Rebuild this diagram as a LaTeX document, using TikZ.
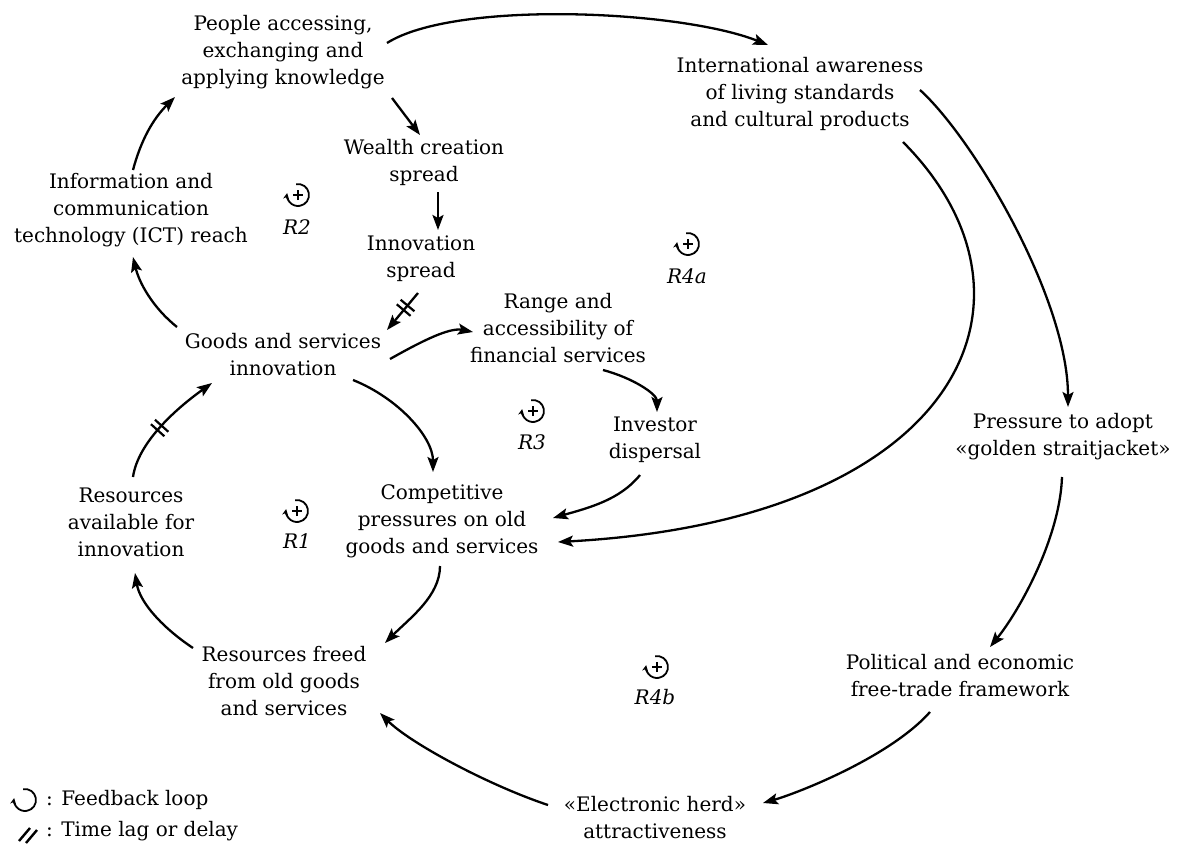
\documentclass[tikz,border=0pt]{standalone}
\usepackage{fontspec}
\setmainfont{DejaVu Serif}
\usetikzlibrary{arrows.meta,decorations.markings}
\begin{document}
\begin{tikzpicture}[x=1pt,y=-1pt,
  lbl/.style={align=center, inner sep=0pt, font=\fontsize{20}{27}\selectfont},
  loopname/.style={inner sep=0pt, font=\fontsize{20}{24}\selectfont\itshape},
  conn/.style={line width=2.3pt, -{Stealth[length=15pt,width=11pt,inset=3pt]}},
  lagmark/.style={postaction={decorate,decoration={markings,
      mark=at position #1 with {\draw[line width=2.2pt,-] (-3,-9)--(-3,9) (3,-9)--(3,9);}}}},
  loopbare/.pic={
    \begin{scope}[yscale=-1]
      \draw[line width=1.8pt,-{Stealth[length=6pt,width=6pt]}]
        (100:11) arc[start angle=100,end angle=-190,radius=11];
    \end{scope}},
  loopicon/.pic={
    \begin{scope}[yscale=-1]
      \draw[line width=1.8pt,-{Stealth[length=6pt,width=6pt]}]
        (100:11) arc[start angle=100,end angle=-190,radius=11];
      \draw[line width=2.6pt] (-5,0)--(5,0) (0,-5)--(0,5);
    \end{scope}}
]
\useasboundingbox (0,0) rectangle (1179,846);

% variables of the causal loop diagram
\node[lbl] (people)    at (283,52)  {People accessing,\\exchanging and\\applying knowledge};
\node[lbl] (intl)      at (800,94)  {International awareness\\of living standards\\and cultural products};
\node[lbl] (wealth)    at (424,162) {Wealth creation\\spread};
\node[lbl] (ict)       at (131,210) {Information and\\communication\\technology (ICT) reach};
\node[lbl] (innov)     at (421,259) {Innovation\\spread};
\node[lbl] (range)     at (558,328) {Range and\\accessibility of\\financial services};
\node[lbl] (goods)     at (283,355) {Goods and services\\innovation};
\node[lbl] (investor)  at (655,440) {Investor\\dispersal};
\node[lbl] (pressure)  at (1063,437) {Pressure to adopt\\«golden straitjacket»};
\node[lbl] (resavail)  at (131,522) {Resources\\available for\\innovation};
\node[lbl] (compet)    at (442,521) {Competitive\\pressures on old\\goods and services};
\node[lbl] (freed)     at (284,681) {Resources freed\\from old goods\\and services};
\node[lbl] (political) at (960,676) {Political and economic\\free-trade framework};
\node[lbl] (herd)      at (655,818) {«Electronic herd»\\attractiveness};

% reinforcing loop markers
\pic at (298,195) {loopicon}; \node[loopname] (r2)  at (297,227) {R2};
\pic at (688,244) {loopicon}; \node[loopname] (r4a) at (687,276) {R4a};
\pic at (533,411) {loopicon}; \node[loopname] (r3)  at (532,442) {R3};
\pic at (297,511) {loopicon}; \node[loopname] (r1)  at (297,541) {R1};
\pic at (657,667) {loopicon}; \node[loopname] (r4b) at (655,697) {R4b};

% causal links
\draw[conn] ([shift={(104,-9)}]people.center) .. controls +(68,-43) and +(-88,-35) .. ([shift={(-32,-49)}]intl.center);
\draw[conn] ([shift={(109,46)}]people.center) -- ([shift={(-4,-27)}]wealth.center);
\draw[conn] ([shift={(14,30)}]wealth.center) -- ([shift={(17,-29)}]innov.center);
\draw[conn,lagmark=0.4] ([shift={(-3,34)}]innov.center) -- ([shift={(104,-25)}]goods.center);
\draw[conn] ([shift={(2,-40)}]ict.center) .. controls +(8,-30) and +(-22,22) .. ([shift={(-108,45)}]people.center);
\draw[conn] ([shift={(-106,-28)}]goods.center) .. controls +(-25,-20) and +(6,25) .. ([shift={(2,47)}]ict.center);
\draw[conn] ([shift={(107,4)}]goods.center) .. controls +(25,-14) and +(-25,-5) .. ([shift={(-85,4)}]range.center);
\draw[conn] ([shift={(70,25)}]goods.center) .. controls +(45,18) and +(0,-35) .. ([shift={(-9,-49)}]compet.center);
\draw[conn] ([shift={(45,42)}]range.center) .. controls +(30,8) and +(0,-18) .. ([shift={(2,-28)}]investor.center);
\draw[conn] ([shift={(-15,35)}]investor.center) .. controls +(-20,25) and +(35,-10) .. ([shift={(111,-3)}]compet.center);
\draw[conn] ([shift={(103,48)}]intl.center) .. controls +(157,158) and +(402,-22) .. ([shift={(116,21)}]compet.center);
\draw[conn] ([shift={(120,-4)}]intl.center) .. controls +(55,50) and +(0,-107) .. ([shift={(5,-30)}]pressure.center);
\draw[conn] ([shift={(-1,40)}]pressure.center) .. controls +(-2,60) and +(30,-37) .. ([shift={(30,-29)}]political.center);
\draw[conn] ([shift={(-30,36)}]political.center) .. controls +(-40,45) and +(35,-10) .. ([shift={(108,-15)}]herd.center);
\draw[conn] ([shift={(-107,-13)}]herd.center) .. controls +(-60,-20) and +(30,30) .. ([shift={(96,32)}]freed.center);
\draw[conn] ([shift={(-2,45)}]compet.center) .. controls +(0,30) and +(25,-25) .. ([shift={(101,-38)}]freed.center);
\draw[conn] ([shift={(-91,-33)}]freed.center) .. controls +(-30,-20) and +(5,30) .. ([shift={(4,51)}]resavail.center);
\draw[conn,lagmark=0.45] ([shift={(2,-45)}]resavail.center) .. controls +(5,-35) and +(-35,25) .. ([shift={(-71,28)}]goods.center);

% legend
\pic at (25,800) {loopbare};
\node[lbl,anchor=west] (legloop) at (46,800) {: Feedback loop};
\draw[line width=2.4pt] (19,841)--(30,828) (26,843)--(37,830);
\node[lbl,anchor=west] (leglag) at (46,831) {: Time lag or delay};
\end{tikzpicture}
\end{document}
